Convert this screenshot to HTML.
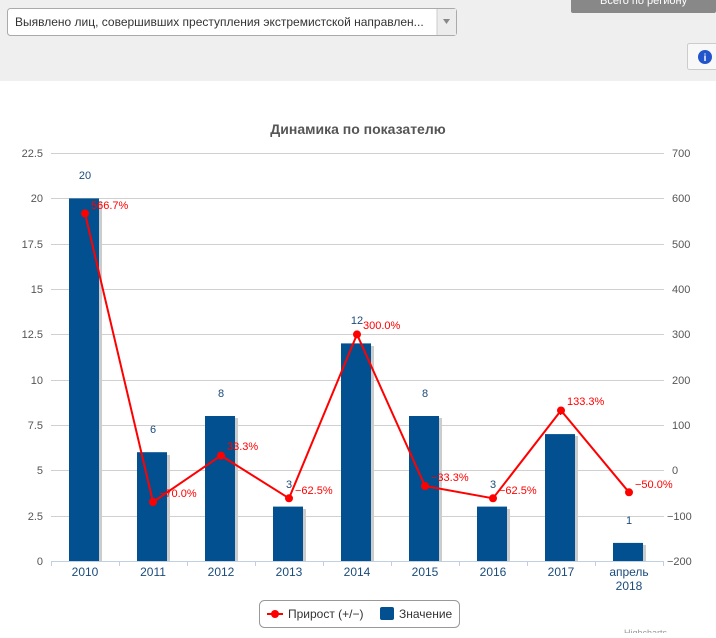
<!DOCTYPE html>
<html><head><meta charset="utf-8"><style>
body{margin:0;width:716px;height:633px;overflow:hidden;background:#fff;font-family:"Liberation Sans","DejaVu Sans",sans-serif}
</style></head><body>
<svg width="716" height="633" xmlns="http://www.w3.org/2000/svg" font-family="Liberation Sans, DejaVu Sans, sans-serif">
<rect x="0" y="0" width="716" height="81" fill="#efefef"/>
<rect x="7.5" y="8.5" width="449" height="27" rx="3" fill="#fff" stroke="#aaa"/>
<rect x="437" y="9" width="19" height="26" fill="#ececec"/>
<line x1="437" y1="9" x2="437" y2="35" stroke="#ccc"/>
<polygon points="443,19 450,19 446.5,24" fill="#888"/>
<text x="15" y="26" font-size="12" fill="#333">Выявлено лиц, совершивших преступления экстремистской направлен...</text>
<rect x="571" y="-5" width="145" height="18" rx="2" fill="#888"/>
<text x="600" y="4" font-size="11" fill="#fff">Всего по региону</text>
<rect x="687.5" y="43.5" width="40" height="26" rx="2" fill="#f8f8f8" stroke="#ccc"/>
<circle cx="705" cy="57" r="7" fill="#2255cc"/>
<text x="705" y="61" font-size="10" font-weight="bold" fill="#fff" text-anchor="middle">i</text>
<text x="358" y="134" font-size="14" font-weight="bold" fill="#555" text-anchor="middle">Динамика по показателю</text>
<g stroke="#d0d0d0" stroke-width="1">
<line x1="51" x2="664" y1="153.5" y2="153.5"/><line x1="51" x2="664" y1="198.5" y2="198.5"/>
<line x1="51" x2="664" y1="244.5" y2="244.5"/><line x1="51" x2="664" y1="289.5" y2="289.5"/>
<line x1="51" x2="664" y1="334.5" y2="334.5"/><line x1="51" x2="664" y1="380.5" y2="380.5"/>
<line x1="51" x2="664" y1="425.5" y2="425.5"/><line x1="51" x2="664" y1="470.5" y2="470.5"/>
<line x1="51" x2="664" y1="516.5" y2="516.5"/>
</g>
<g font-size="11" fill="#555" text-anchor="end">
<text x="43" y="157">22.5</text><text x="43" y="202">20</text><text x="43" y="248">17.5</text>
<text x="43" y="293">15</text><text x="43" y="338">12.5</text><text x="43" y="384">10</text>
<text x="43" y="429">7.5</text><text x="43" y="474">5</text><text x="43" y="520">2.5</text><text x="43" y="565">0</text>
</g>
<g font-size="11" fill="#555" text-anchor="start">
<text x="672" y="157">700</text><text x="672" y="202">600</text><text x="672" y="248">500</text>
<text x="672" y="293">400</text><text x="672" y="338">300</text><text x="672" y="384">200</text>
<text x="672" y="429">100</text><text x="672" y="474">0</text><text x="667" y="520">−100</text><text x="667" y="565">−200</text>
</g>
<g fill="#ccc">
<rect x="72" y="201" width="30" height="360"/><rect x="140" y="455" width="30" height="106"/>
<rect x="208" y="418" width="30" height="143"/><rect x="276" y="509" width="30" height="52"/>
<rect x="344" y="346" width="30" height="215"/><rect x="412" y="418" width="30" height="143"/>
<rect x="480" y="509" width="30" height="52"/><rect x="548" y="436" width="30" height="125"/>
<rect x="616" y="545" width="30" height="16"/>
</g>
<g fill="#02508f">
<rect x="69" y="198.4" width="30" height="362.6"/><rect x="137" y="452.2" width="30" height="108.8"/>
<rect x="205" y="416" width="30" height="145"/><rect x="273" y="506.6" width="30" height="54.4"/>
<rect x="341" y="343.4" width="30" height="217.6"/><rect x="409" y="416" width="30" height="145"/>
<rect x="477" y="506.6" width="30" height="54.4"/><rect x="545" y="434.1" width="30" height="126.9"/>
<rect x="613" y="542.9" width="30" height="18.1"/>
</g>
<line x1="51" x2="664" y1="561.5" y2="561.5" stroke="#c0d0e0"/>
<g stroke="#c0d0e0"><line x1="51.5" x2="51.5" y1="561" y2="566"/><line x1="119.5" x2="119.5" y1="561" y2="566"/><line x1="187.5" x2="187.5" y1="561" y2="566"/><line x1="255.5" x2="255.5" y1="561" y2="566"/><line x1="323.5" x2="323.5" y1="561" y2="566"/><line x1="391.5" x2="391.5" y1="561" y2="566"/><line x1="459.5" x2="459.5" y1="561" y2="566"/><line x1="527.5" x2="527.5" y1="561" y2="566"/><line x1="595.5" x2="595.5" y1="561" y2="566"/><line x1="663.5" x2="663.5" y1="561" y2="566"/></g>
<g font-size="12" fill="#1b4b7a" text-anchor="middle">
<text x="85" y="576">2010</text><text x="153" y="576">2011</text><text x="221" y="576">2012</text>
<text x="289" y="576">2013</text><text x="357" y="576">2014</text><text x="425" y="576">2015</text>
<text x="493" y="576">2016</text><text x="561" y="576">2017</text><text x="629" y="576">апрель</text><text x="629" y="590">2018</text>
</g>
<g font-size="11" fill="#1b4b7a" text-anchor="middle">
<text x="85" y="179">20</text><text x="153" y="433">6</text><text x="221" y="397">8</text>
<text x="289" y="488">3</text><text x="357" y="324">12</text><text x="425" y="397">8</text>
<text x="493" y="488">3</text><text x="561" y="415">7</text><text x="629" y="524">1</text>
</g>
<polyline fill="none" stroke="#ff0000" stroke-width="2" points="85,213.4 153,502 221,455.6 289,498.3 357,334.4 425,486 493,498.3 561,410.5 629,492.3"/>
<g fill="#ff0000">
<circle cx="85" cy="213.4" r="4"/><circle cx="153" cy="502" r="4"/><circle cx="221" cy="455.6" r="4"/>
<circle cx="289" cy="498.3" r="4"/><circle cx="357" cy="334.4" r="4"/><circle cx="425" cy="486" r="4"/>
<circle cx="493" cy="498.3" r="4"/><circle cx="561" cy="410.5" r="4"/><circle cx="629" cy="492.3" r="4"/>
</g>
<g font-size="11" fill="#ff0000">
<text x="91" y="209">566.7%</text><text x="159" y="497">−70.0%</text><text x="227" y="450">33.3%</text>
<text x="295" y="494">−62.5%</text><text x="363" y="329">300.0%</text><text x="431" y="481">−33.3%</text>
<text x="499" y="494">−62.5%</text><text x="567" y="405">133.3%</text><text x="635" y="488">−50.0%</text>
</g>
<rect x="259.5" y="600.5" width="200" height="27" rx="5" fill="#fff" stroke="#999"/>
<line x1="267" x2="283" y1="614" y2="614" stroke="#ff0000" stroke-width="2"/>
<circle cx="275" cy="614" r="4" fill="#ff0000"/>
<text x="288" y="618" font-size="12" fill="#333">Прирост (+/−)</text>
<rect x="380" y="607" width="14" height="13" rx="2" fill="#02508f"/>
<text x="399" y="618" font-size="12" fill="#333">Значение</text>
<text x="624" y="636" font-size="9" fill="#999">Highcharts</text>
</svg>
</body></html>
